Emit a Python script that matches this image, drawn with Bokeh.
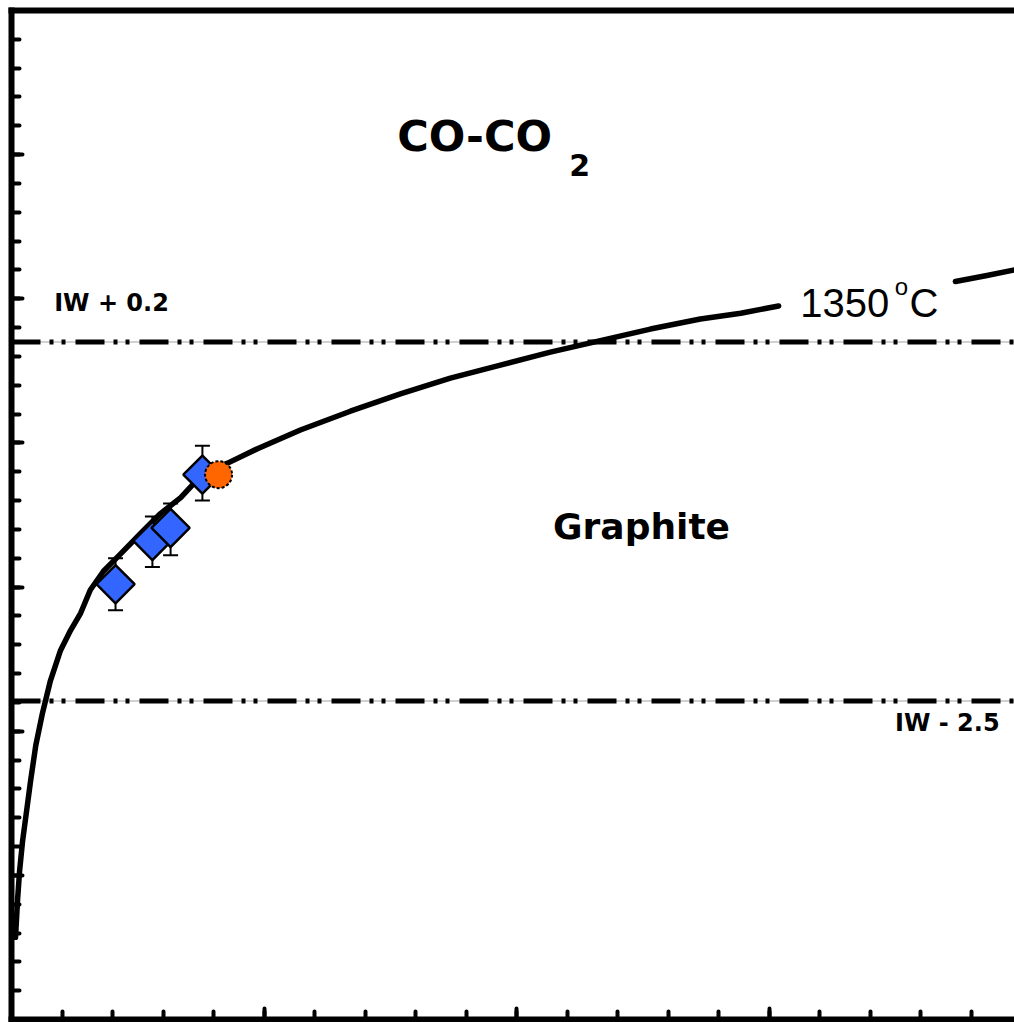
import numpy as np
from bokeh.plotting import figure
from bokeh.models import (Range1d, LinearAxis, SingleIntervalTicker, Whisker,
                          TeeHead, ColumnDataSource, Label, CustomLabelingPolicy)
from bokeh.embed import file_html
from bokeh.resources import INLINE

# ---------------- data ----------------
# 1350 C graphite / CO-CO2 boundary curve (gap where the label sits)
curve_x = [0.008, 0.012, 0.016, 0.022, 0.030, 0.038, 0.048, 0.061, 0.077, 0.097,
           0.117, 0.137, 0.156, 0.182, 0.216, 0.255, 0.295, 0.335, 0.380, 0.428,
           0.487, 0.572, 0.671, 0.770, 0.869, 0.968, 1.067, 1.166, 1.265, 1.364,
           1.444, 1.519, np.nan, 1.869, 1.929, 1.986]
curve_y = [-13.43, -13.17, -12.97, -12.76, -12.55, -12.34, -12.10, -11.88, -11.65, -11.44,
           -11.30, -11.18, -11.02, -10.89, -10.77, -10.63, -10.49, -10.38, -10.21, -10.14,
           -10.04, -9.91, -9.78, -9.66, -9.55, -9.46, -9.37, -9.29, -9.21, -9.14,
           -9.10, -9.05, np.nan, -8.88, -8.84, -8.80]

# experiments (blue diamonds) with error bars
exp_x = [0.206, 0.279, 0.315, 0.378]
exp_y = [-10.98, -10.68, -10.59, -10.22]
exp_lo = [-11.16, -10.86, -10.78, -10.40]
exp_hi = [-10.80, -10.51, -10.42, -10.02]

# orange point
orange_x = [0.410]
orange_y = [-10.22]

# buffer lines
iw_levels = [-9.30, -11.79]
iw_names = ["IW + 0.2", "IW - 2.5"]

X0, X1 = 0.0, 1.986
Y0, Y1 = -14.0, -7.0

# ---------------- figure ----------------
p = figure(width=1014, height=1022, output_backend="svg", toolbar_location=None,
           x_range=Range1d(X0, X1), y_range=Range1d(Y0, Y1),
           min_border_left=11, min_border_right=0, min_border_top=10,
           min_border_bottom=3, background_fill_color="white",
           border_fill_color="white", outline_line_color=None)
p.grid.visible = False

p.xaxis.ticker = SingleIntervalTicker(interval=0.5, num_minor_ticks=5)
p.yaxis.ticker = SingleIntervalTicker(interval=1.0, num_minor_ticks=5)
for ax in (p.xaxis[0], p.yaxis[0]):
    ax.major_label_policy = CustomLabelingPolicy(code="return []")
    ax.major_label_text_font_size = "0px"
    ax.major_label_standoff = 0
    ax.major_tick_out = 0
    ax.minor_tick_out = 0
    ax.major_tick_in = 11
    ax.minor_tick_in = 8
    ax.axis_line_width = 6
    ax.axis_line_color = "black"
    ax.major_tick_line_width = 4
    ax.minor_tick_line_width = 4
    ax.major_tick_line_cap = "round"
    ax.minor_tick_line_cap = "round"
    ax.axis_line_cap = "square"

top = LinearAxis(major_label_text_font_size="0px", major_label_standoff=0,
                 major_label_policy=CustomLabelingPolicy(code="return []"),
                 major_tick_in=0, major_tick_out=0, minor_tick_in=0, minor_tick_out=0,
                 major_tick_line_color=None, minor_tick_line_color=None,
                 axis_line_width=6, axis_line_color="black", axis_line_cap="square")
p.add_layout(top, "above")

# buffer lines: thin grey base + dash-dot-dot black
for lvl in iw_levels:
    p.line([X0, X1], [lvl, lvl], line_color="#c0c0c0", line_width=1.5)
    p.line([X0, X1], [lvl, lvl], line_color="black", line_width=5,
           line_dash="29 9 4 8 4 10")

# curve
p.line(curve_x, curve_y, line_color="black", line_width=5.5, line_join="round",
       line_cap="round")

# error bars
src = ColumnDataSource(dict(x=exp_x, y=exp_y, lo=exp_lo, hi=exp_hi))
w = Whisker(source=src, base="x", lower="lo", upper="hi", line_width=2,
            line_color="black",
            upper_head=TeeHead(size=15, line_width=2, line_color="black"),
            lower_head=TeeHead(size=15, line_width=2, line_color="black"))
p.add_layout(w)

p.scatter(exp_x, exp_y, marker="square", angle=np.pi / 4, size=27,
          fill_color="#3366FF", line_color="black", line_width=2.5)
p.scatter(orange_x, orange_y, marker="circle", size=27, fill_color="#FF6600",
          line_color="black", line_width=2, line_dash="3 2")

# ---------------- labels ----------------
def lab(x, y, t, size, font="DejaVu Sans", style="bold", align="center"):
    p.add_layout(Label(x=x, y=y, text=t, text_font=font, text_font_style=style,
                       text_font_size=size, text_align=align,
                       text_baseline="alphabetic", text_color="black"))

lab(0.917, -7.874, "CO-CO", "43px")
lab(1.125, -8.075, "2", "30px")
lab(1.2475, -10.580, "Graphite", "36px")
lab(0.198, -9.026, iw_names[0], "24px")
lab(1.853, -11.940, iw_names[1], "24px")
lab(1.562, -9.026, "1350", "40px", font="Liberation Sans", style="normal", align="left")
lab(1.749, -8.915, "o", "24px", font="Liberation Sans", style="normal", align="left")
lab(1.778, -9.026, "C", "40px", font="Liberation Sans", style="normal", align="left")

open("out.html", "w").write(file_html(p, INLINE))
